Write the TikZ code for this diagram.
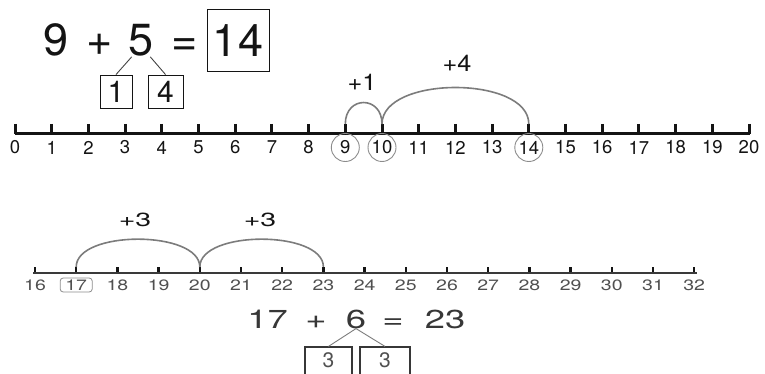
\documentclass[tikz,border=0pt]{standalone}
\usepackage{fontspec}
\setsansfont{TeX Gyre Heros}
\usetikzlibrary{arrows.meta,positioning,calc}
\definecolor{inkblack}{HTML}{141414}
\definecolor{hopgray}{HTML}{7C7C7C}
\definecolor{ringgray}{HTML}{8C8C8C}
\definecolor{fadeink}{HTML}{505050}
\definecolor{fadeline}{HTML}{3A3A3A}
\newcommand{\wide}[2][1.35]{\scalebox{#1}[1]{#2}}
\tikzset{
  eqbig/.style={font=\sffamily\fontsize{45}{45}\selectfont, text=inkblack,
    inner sep=0pt, anchor=base},
  sumbox/.style={draw=inkblack, line width=1pt, minimum width=62, minimum height=62,
    inner sep=0pt, font=\sffamily\fontsize{45}{45}\selectfont, text=inkblack},
  partbox/.style={draw=inkblack, line width=0.9pt, minimum height=33, inner sep=0pt,
    font=\sffamily\fontsize{30}{30}\selectfont, text=inkblack},
  split/.style={line width=0.9pt, color=inkblack!80},
  % the first number line
  axis/.style={line width=3pt, color=inkblack},
  tick/.style={line width=3pt, color=inkblack},
  numlab/.style={font=\sffamily\fontsize{18.5}{18.5}\selectfont, text=inkblack, inner sep=0pt},
  ring/.style={draw=ringgray, circle, minimum size=28, line width=0.9pt, inner sep=0pt},
  hop/.style={line width=1.6pt, color=hopgray},
  hoplab/.style={font=\sffamily\fontsize{23}{23}\selectfont, text=inkblack, inner sep=0pt},
  % the second number line (lighter)
  thinaxis/.style={line width=2pt, color=fadeline},
  thintick/.style={line width=2.5pt, color=inkblack},
  smalllab/.style={font=\sffamily\fontsize{15}{15}\selectfont, text=fadeink, inner sep=0pt},
  tagbox/.style={draw=ringgray, rounded corners=3pt, minimum width=32, minimum height=14,
    line width=0.8pt, inner sep=0pt},
  eqmid/.style={font=\sffamily\fontsize{26}{26}\selectfont, text=inkblack!85,
    inner sep=0pt, anchor=base},
  halfbox/.style={draw=inkblack!85, line width=1.2pt, inner sep=0pt, anchor=base,
    text height=20pt, text depth=12pt, font=\sffamily\fontsize{21}{21}\selectfont,
    text=fadeink},
}
\begin{document}
\begin{tikzpicture}[x=1pt,y=1pt]
  \useasboundingbox (0,0) rectangle (765,-374);
  % 9 + 5 = 14
  \node[eqbig] (n9) at (56,-56) {9};
  \node[eqbig] (plusa) at (100,-56) {+};
  \node[eqbig] (n5) at (141,-56) {5};
  \node[eqbig] (eqa) at (185,-56) {=};
  \node[sumbox] (s14) at (238,-41) {14};
  \node[partbox, minimum width=32] (p1) at (116,-91.5) {1};
  \node[partbox, minimum width=35] (p4) at (165.5,-91.5) {4};
  \draw[split] (n5.-120) -- (p1.north);
  \draw[split] (n5.-60) -- (p4.north);

  \foreach \i in {0,...,20} {
    \coordinate (a\i) at ({15+36.7*\i},-124);
    \draw[tick] (a\i) -- ++(0,-10);
    \node[numlab] (l\i) at ({15+36.7*\i},-147.5) {\i};
  }
  \coordinate (za) at (15,-134);
  \coordinate (zb) at (750,-134);
  \draw[axis] (za) -- (zb);
  \foreach \i in {9,10,14}
    \node[ring] (r\i) at (l\i) {};
  \draw[hop] (a9) to[out=90,in=90,looseness=2.0] (a10);
  \draw[hop] (a10) to[out=90,in=90,looseness=0.85] (a14);
  \node[hoplab] (h1) at (362,-82) {\wide[1.1]{+1}};
  \node[hoplab] (h4) at (457,-63) {\wide[1.1]{+4}};

  % 17 + 6 = 23
  \foreach \i in {16,...,32} {
    \coordinate (b\i) at ({35+41.2*(\i-16)},-267);
    \draw[thintick] (b\i) -- ++(0,-6);
    \node[smalllab] (m\i) at ({35+41.2*(\i-16)},-285) {\wide[1.3]{\i}};
  }
  \coordinate (zc) at (33,-273);
  \coordinate (zd) at (697,-273);
  \draw[thinaxis] (zc) -- (zd);
  \node[tagbox] (tag17) at (m17) {};
  \draw[hop] (b17) to[out=90,in=90,looseness=0.77] (b20);
  \draw[hop] (b20) to[out=90,in=90,looseness=0.77] (b23);
  \node[hoplab, font=\sffamily\fontsize{19}{19}\selectfont] (h3a) at (135,-220) {\wide[1.5]{+3}};
  \node[hoplab, font=\sffamily\fontsize{19}{19}\selectfont] (h3b) at (260,-220) {\wide[1.5]{+3}};

  \node[eqmid] (n17) at (267.5,-328) {\wide[1.4]{17}};
  \node[eqmid] (plusb) at (316,-328) {\wide[1.4]{+}};
  \node[eqmid] (n6) at (356,-328) {\wide[1.4]{6}};
  \node[eqmid] (eqb) at (393,-328) {\wide[1.4]{=}};
  \node[eqmid] (n23) at (445,-328) {\wide[1.4]{23}};
  \node[halfbox, minimum width=47] (q1) at (328.5,-367) {3};
  \node[halfbox, minimum width=50] (q2) at (385,-367) {3};
  \draw[split, color=hopgray] (n6.south) -- (q1.north);
  \draw[split, color=hopgray] (n6.south) -- (q2.north);
\end{tikzpicture}
\end{document}
